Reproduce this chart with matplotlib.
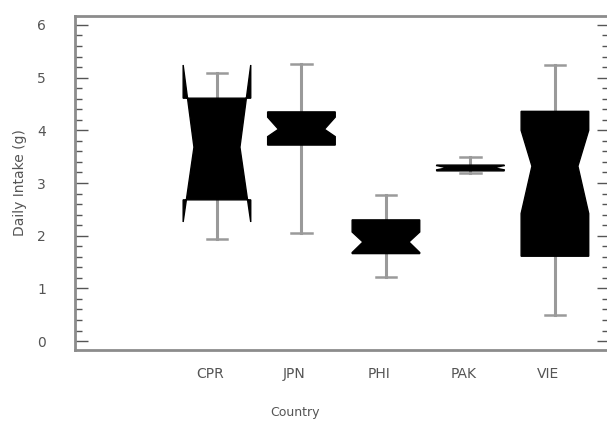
import numpy as np
import matplotlib
matplotlib.use("Agg")
import matplotlib.pyplot as plt
import matplotlib.transforms as mtransforms
from matplotlib.ticker import MultipleLocator

countries = ["CPR", "JPN", "PHI", "PAK", "VIE"]
whislo = [1.94, 2.05, 1.21, 3.19, 0.49]
q1 = [2.68, 3.72, 1.66, 3.23, 1.61]
med = [3.68, 4.02, 1.88, 3.29, 3.32]
q3 = [4.61, 4.35, 2.30, 3.34, 4.36]
whishi = [5.09, 5.25, 2.77, 3.49, 5.24]
cilo = [2.26, 3.88, 1.68, 3.25, 2.42]
cihi = [5.24, 4.25, 2.07, 3.33, 4.00]


def make_stats():
    stats = []
    for i in range(len(countries)):
        stats.append(dict(label=countries[i], whislo=whislo[i], q1=q1[i], med=med[i],
                          q3=q3[i], whishi=whishi[i], cilo=cilo[i], cihi=cihi[i],
                          fliers=[]))
    return stats


def main():
    fig = plt.figure(figsize=(6.07, 4.23), dpi=100)
    ax = fig.add_axes([75 / 607, 1 - 350 / 423, 534 / 607, 334 / 423])
    grey = "#8c8c8c"
    positions = np.arange(1, len(countries) + 1)
    width = 0.8
    res = ax.bxp(make_stats(), positions=positions, widths=width, capwidths=0.24,
                 shownotches=True, patch_artist=True, showfliers=False,
                 boxprops=dict(facecolor="black", edgecolor="black", linewidth=1),
                 medianprops=dict(linewidth=0),
                 whiskerprops=dict(color="#9a9a9a", linewidth=2.2),
                 capprops=dict(color="#9a9a9a", linewidth=1.8))
    # the notches in the original are less deep than matplotlib's default
    for pos, box in zip(positions, res["boxes"]):
        verts = box.get_path().vertices
        verts[3, 0] = pos + width * 0.34
        verts[8, 0] = pos - width * 0.34
        box.set_zorder(3)
    for ln in res["whiskers"] + res["caps"]:
        ln.set_zorder(2)

    ax.set_xlim(-0.68, 5.64)
    ax.set_ylim(-0.17, 6.17)
    ax.yaxis.set_major_locator(MultipleLocator(1))
    ax.yaxis.set_minor_locator(MultipleLocator(0.2))
    ax.tick_params(axis="y", which="both", direction="in", right=True, color="#555555",
                   labelcolor="#555555", labelsize=10, pad=21, width=1)
    ax.tick_params(axis="y", which="major", length=9)
    ax.tick_params(axis="y", which="minor", length=5)
    ax.tick_params(axis="x", length=0, pad=12, labelcolor="#555555", labelsize=10)
    ax.set_xticks(positions)
    ax.set_xticklabels(countries)
    offset = mtransforms.ScaledTranslation(-7 / 100, 0, fig.dpi_scale_trans)
    for lab in ax.get_xticklabels():
        lab.set_transform(lab.get_transform() + offset)

    for s in ax.spines.values():
        s.set_color(grey)
        s.set_linewidth(2)
    ax.spines["right"].set_visible(False)

    ax.set_ylabel("Daily Intake (g)", color="#555555", fontsize=10)
    ax.yaxis.set_label_coords(-0.09, 0.5)
    ax.set_xlabel("Country", color="#555555", fontsize=9)
    ax.xaxis.set_label_coords(0.412, -0.168)

    fig.savefig("out.png", dpi=100)


if __name__ == "__main__":
    main()
